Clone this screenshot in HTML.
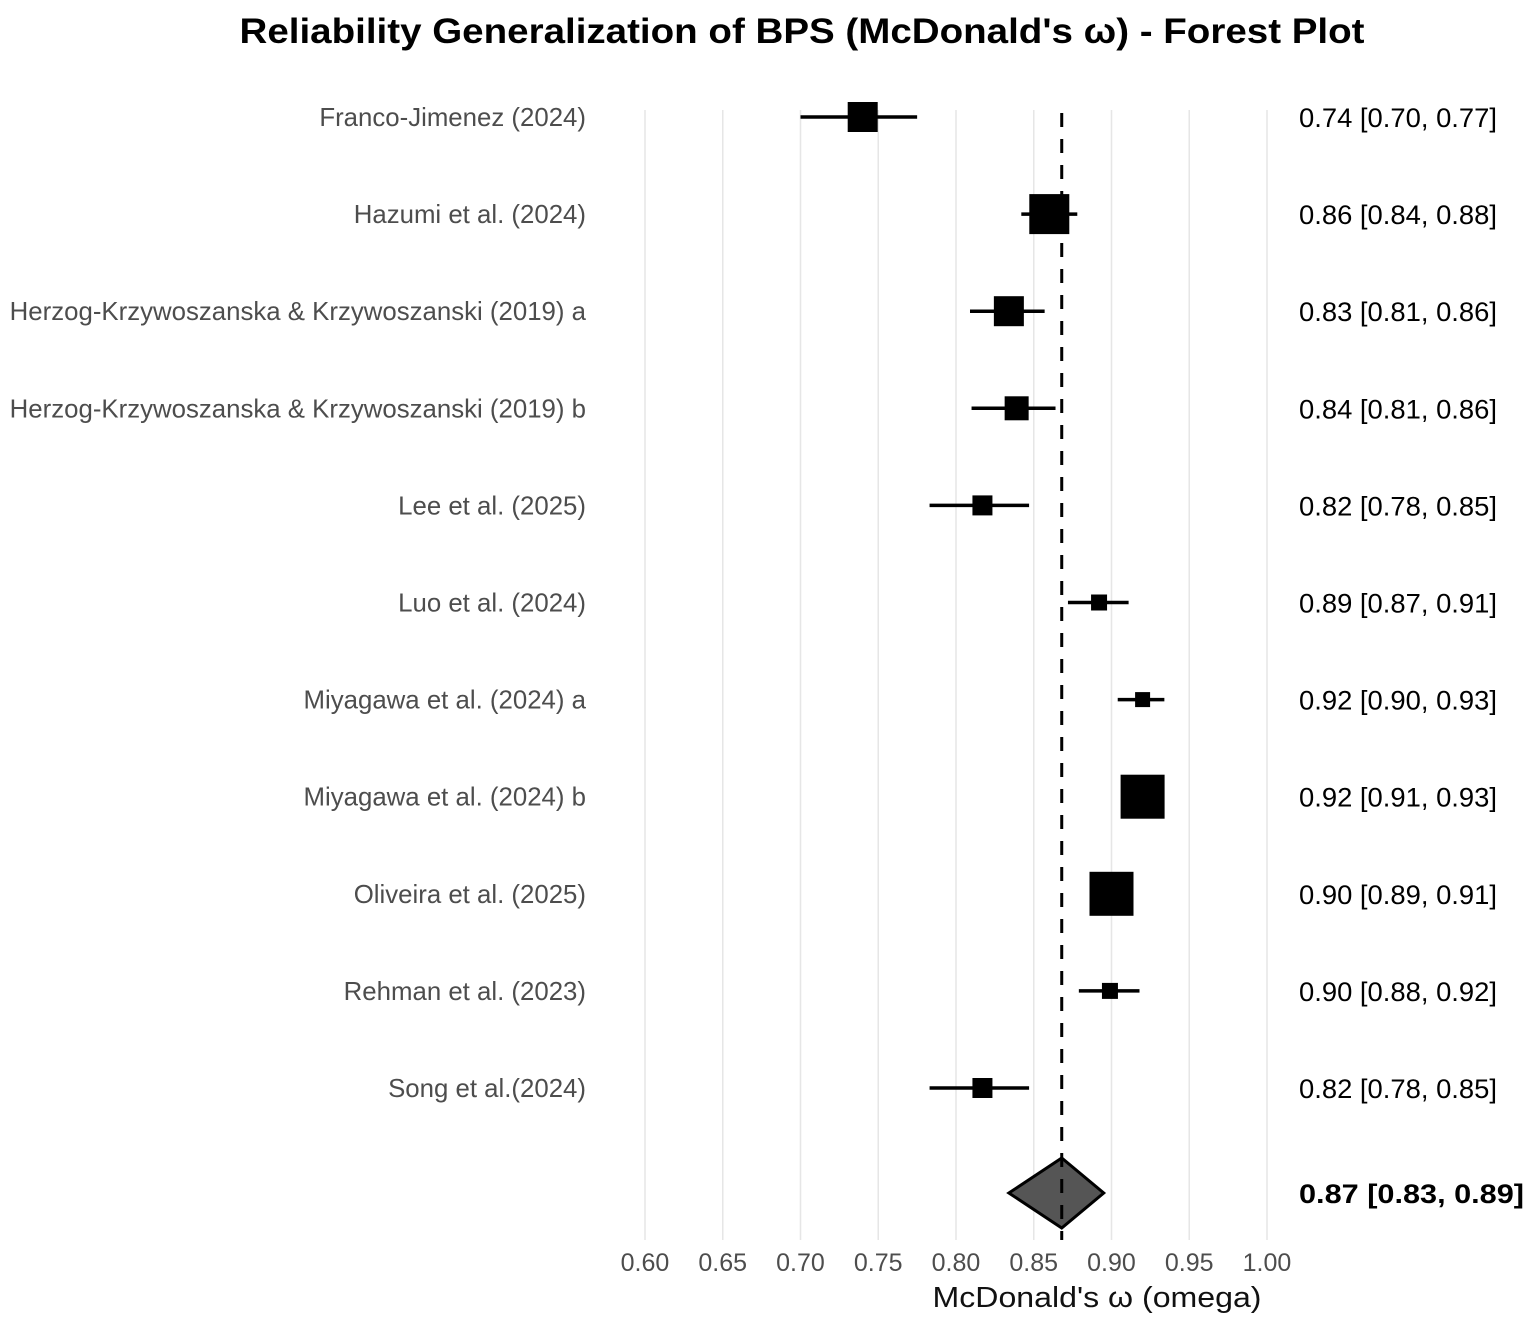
<!DOCTYPE html>
<html><head><meta charset="utf-8"><style>
html,body{margin:0;padding:0;background:#fff;}
svg{display:block;font-family:"Liberation Sans",Arial,sans-serif;}
</style></head><body>
<svg id="chart" width="1535" height="1325">
<text x="802" y="43" text-anchor="middle" font-size="35" font-weight="bold" fill="#000" textLength="1125" lengthAdjust="spacingAndGlyphs">Reliability Generalization of BPS (McDonald's ω) - Forest Plot</text>
<g id="grid"></g><g id="marks"></g><g id="labels"></g>
<text x="1097" y="1307" text-anchor="middle" font-size="29" fill="#111" textLength="329" lengthAdjust="spacingAndGlyphs">McDonald's ω (omega)</text>
</svg>
<script>
const studies=["Franco-Jimenez (2024)","Hazumi et al. (2024)","Herzog-Krzywoszanska & Krzywoszanski (2019) a","Herzog-Krzywoszanska & Krzywoszanski (2019) b","Lee et al. (2025)","Luo et al. (2024)","Miyagawa et al. (2024) a","Miyagawa et al. (2024) b","Oliveira et al. (2025)","Rehman et al. (2023)","Song et al.(2024)"];
const est=[0.740,0.860,0.834,0.839,0.817,0.892,0.920,0.920,0.900,0.899,0.817];
const lower=[0.700,0.842,0.809,0.810,0.783,0.872,0.904,0.910,0.890,0.879,0.783];
const upper=[0.775,0.878,0.857,0.864,0.847,0.911,0.934,0.930,0.910,0.918,0.847];
const weights=[30,40,30,24,20,16,15,44,44,16,20];
const labelsText=["0.74 [0.70, 0.77]","0.86 [0.84, 0.88]","0.83 [0.81, 0.86]","0.84 [0.81, 0.86]","0.82 [0.78, 0.85]","0.89 [0.87, 0.91]","0.92 [0.90, 0.93]","0.92 [0.91, 0.93]","0.90 [0.89, 0.91]","0.90 [0.88, 0.92]","0.82 [0.78, 0.85]"];
const pooled=[0.868,0.834,0.895];
const pooledText="0.87 [0.83, 0.89]";
const ticks=[0.60,0.65,0.70,0.75,0.80,0.85,0.90,0.95,1.00];
const NS="http://www.w3.org/2000/svg";
const X=v=>645+(v-0.60)/0.40*622;
const Y=i=>117+i*97.1;
function mk(t,a,p){const e=document.createElementNS(NS,t);for(const k in a)e.setAttribute(k,a[k]);p.appendChild(e);return e;}
const grid=document.getElementById('grid'),marks=document.getElementById('marks'),labs=document.getElementById('labels');
ticks.forEach(t=>{
 const l=mk('line',{x1:X(t),x2:X(t),y1:110,y2:1240,stroke:'#e6e6e6','stroke-width':1.5},grid);
 
 
 const tx=mk('text',{x:X(t),y:1271,'text-anchor':'middle','font-size':25,fill:'#4d4d4d'},grid);
 tx.textContent=t.toFixed(2);
 
 
});
studies.forEach((s,i)=>{
 const y=Y(i);
 const ci=mk('line',{x1:X(lower[i]),x2:X(upper[i]),y1:y,y2:y,stroke:'#000','stroke-width':3.5},marks);
 
 
 const w=weights[i];
 const sq=mk('rect',{x:X(est[i])-w/2,y:y-w/2,width:w,height:w,fill:'#000'},marks);
 
 
 const lt=mk('text',{x:586,y:y+9,'text-anchor':'end','font-size':25.8,fill:'#4d4d4d'},labs);
 lt.textContent=s;
 
 
 const rt=mk('text',{x:1299,y:y+10,'font-size':27,fill:'#000',textLength:198,lengthAdjust:'spacingAndGlyphs'},labs);
 rt.textContent=labelsText[i];
 
 
});
const py=1193;
const d=mk('polygon',{points:`${X(pooled[1])},${py} ${X(pooled[0])},${py-35} ${X(pooled[2])},${py} ${X(pooled[0])},${py+35}`,fill:'#555',stroke:'#000','stroke-width':3},marks);


const ref=mk('line',{x1:X(pooled[0]),x2:X(pooled[0]),y1:113,y2:1240,stroke:'#000','stroke-width':3,'stroke-dasharray':'14 12'},marks);


const pt=mk('text',{x:1299,y:py+10,'font-size':27,'font-weight':'bold',fill:'#000',textLength:225,lengthAdjust:'spacingAndGlyphs'},labs);
pt.textContent=pooledText;


</script>
</body></html>
